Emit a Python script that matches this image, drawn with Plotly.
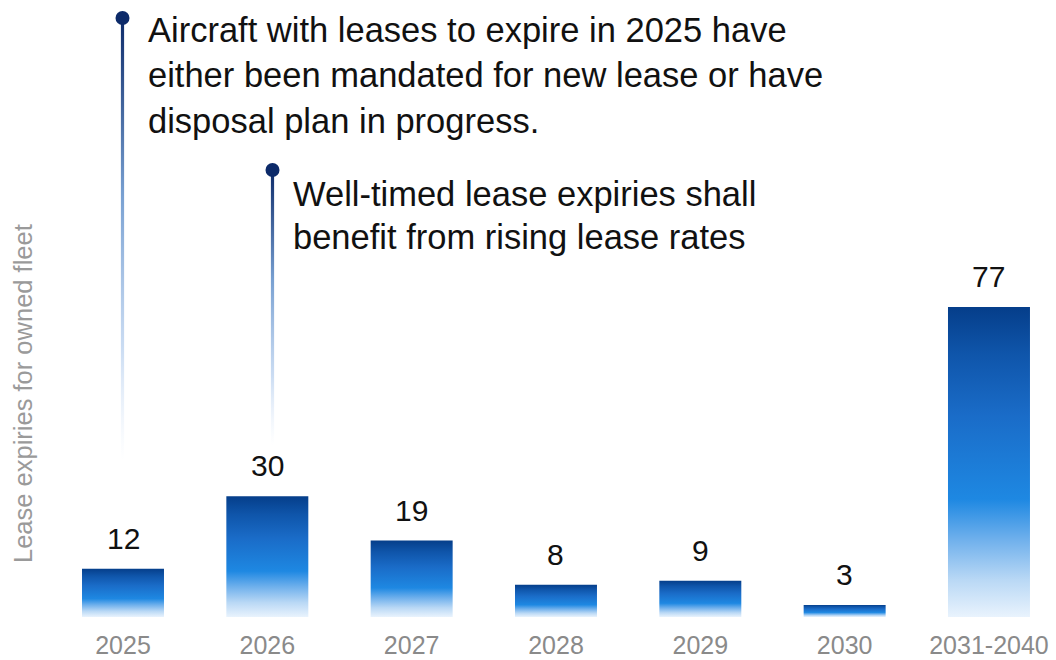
import plotly.graph_objects as go

# ---- data ----
categories = ["2025", "2026", "2027", "2028", "2029", "2030", "2031-2040"]
values = [12, 30, 19, 8, 9, 3, 77]
y_title = "Lease expiries for owned fleet"
note1_lines = ["Aircraft with leases to expire in 2025 have",
               "either been mandated for new lease or have",
               "disposal plan in progress."]
note2_lines = ["Well-timed lease expiries shall",
               "benefit from rising lease rates"]

# ---- layout geometry (pixels) ----
W, H = 1056, 660
L, R, T, B = 45, 5, 0, 43
PX_X = 144.33          # pixels per category step
X0_PIX = 123           # pixel x of first category
PX_Y = 4.026           # pixels per unit
BASE_PIX = H - B

xr = [-(X0_PIX - L) / PX_X, (W - R - X0_PIX) / PX_X]
yr = [0, (H - B - T) / PX_Y]

def dx(px):  # pixel x -> data x
    return (px - X0_PIX) / PX_X

def dy(py):  # pixel y -> data y
    return (BASE_PIX - py) / PX_Y

FONT = "Liberation Sans, Arial, sans-serif"
BAR_HALF = 0.284

bar_scale = [
    [0.0, "#e9f3fd"],
    [0.12, "#b9d8f5"],
    [0.25, "#6fb0ec"],
    [0.38, "#1e88e2"],
    [0.65, "#1a6cc8"],
    [0.85, "#0f55aa"],
    [1.0, "#053e8a"],
]

fig = go.Figure()

for i, v in enumerate(values):
    xs = [i - BAR_HALF, i + BAR_HALF, i + BAR_HALF, i - BAR_HALF, i - BAR_HALF]
    ys = [0, 0, v, v, 0]
    fig.add_trace(go.Scatter(
        x=xs, y=ys, mode="lines", fill="toself",
        line=dict(width=0, color="rgba(0,0,0,0)"),
        fillgradient=dict(type="vertical", colorscale=bar_scale, start=0, stop=v),
        hoverinfo="skip", showlegend=False,
    ))

# callout lines with fading gradient
line_scale = [
    [0.0, "rgba(220,232,248,0)"],
    [0.25, "rgba(190,212,240,0.8)"],
    [0.6, "rgb(120,160,210)"],
    [1.0, "rgb(12,42,105)"],
]
callouts = [
    (dx(122.5), dy(18), dy(460)),
    (dx(272.5), dy(170), dy(445)),
]
LW = 1.6 / PX_X
for cx, ytop, ybot in callouts:
    fig.add_trace(go.Scatter(
        x=[cx - LW, cx + LW, cx + LW, cx - LW, cx - LW],
        y=[ybot, ybot, ytop, ytop, ybot],
        mode="lines", fill="toself",
        line=dict(width=0, color="rgba(0,0,0,0)"),
        fillgradient=dict(type="vertical", colorscale=line_scale, start=ybot, stop=ytop),
        hoverinfo="skip", showlegend=False,
    ))
    fig.add_trace(go.Scatter(
        x=[cx], y=[ytop], mode="markers",
        marker=dict(size=14, color="#0c2a69"),
        hoverinfo="skip", showlegend=False, cliponaxis=False,
    ))

annotations = []
# value labels
for i, v in enumerate(values):
    annotations.append(dict(
        x=i, y=v, xref="x", yref="y", text=str(v), showarrow=False,
        yanchor="bottom", yshift=12,
        font=dict(family=FONT, size=30, color="#111111"),
    ))

NOTE_SIZE = 34.5
# notes
for k, t in enumerate(note1_lines):
    annotations.append(dict(
        x=dx(146), y=dy(42 + 45.5 * k), xref="x", yref="y", text=t, showarrow=False,
        xanchor="left", yanchor="bottom", yshift=-9,
        font=dict(family=FONT, size=NOTE_SIZE, color="#111111"),
    ))
for k, t in enumerate(note2_lines):
    annotations.append(dict(
        x=dx(291), y=dy(206 + 42.5 * k), xref="x", yref="y", text=t, showarrow=False,
        xanchor="left", yanchor="bottom", yshift=-9,
        font=dict(family=FONT, size=NOTE_SIZE, color="#111111"),
    ))

# y-axis title (placed by pixel position)
annotations.append(dict(
    x=(23 - L) / (W - L - R), y=(BASE_PIX - 394) / (H - B - T),
    xref="paper", yref="paper", text=y_title, showarrow=False,
    xanchor="center", yanchor="middle",
    textangle=-90, font=dict(family=FONT, size=25.5, color="#9a9a9a"),
))

fig.update_layout(
    width=W, height=H,
    margin=dict(l=L, r=R, t=T, b=B, pad=0, autoexpand=False),
    paper_bgcolor="white", plot_bgcolor="white",
    showlegend=False,
    annotations=annotations,
    xaxis=dict(
        range=xr, tickmode="array", tickvals=list(range(len(categories))),
        ticktext=categories, showgrid=False, zeroline=False, showline=False,
        ticks="", ticklabelstandoff=11, automargin=False,
        tickfont=dict(family=FONT, size=25, color="#8a8a8a"),
        fixedrange=True,
    ),
    yaxis=dict(
        range=yr, showgrid=False, zeroline=False, showline=False,
        showticklabels=False, ticks="", fixedrange=True, automargin=False,
    ),
)

fig.write_html("out.html", config={"displayModeBar": False},
               post_script="document.body.style.margin='0';")
